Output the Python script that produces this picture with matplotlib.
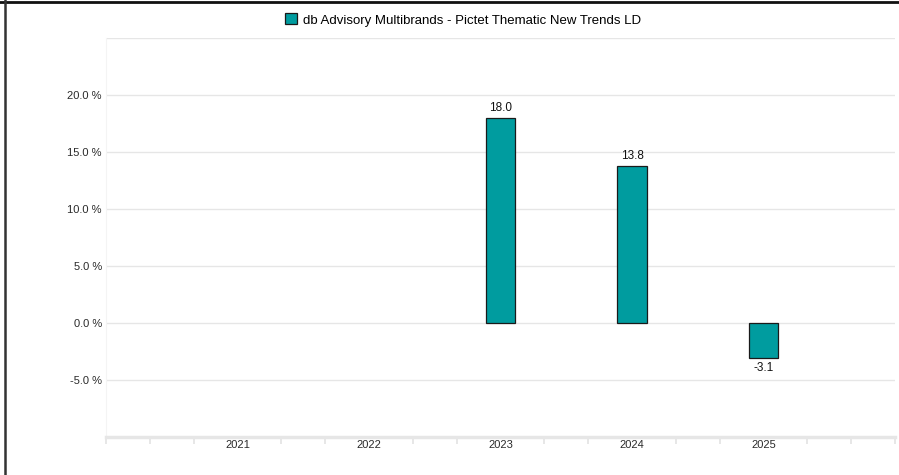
import matplotlib.pyplot as plt
from matplotlib.lines import Line2D
from matplotlib.patches import Patch
import numpy as np

plt.rcParams["font.family"] = ["Liberation Sans", "DejaVu Sans"]

years = ["2021", "2022", "2023", "2024", "2025"]
returns = [None, None, 18.0, 13.8, -3.1]
y_ticks = [-5.0, 0.0, 5.0, 10.0, 15.0, 20.0]
series_name = "db Advisory Multibrands - Pictet Thematic New Trends LD"

bar_color = "#009C9F"
grid_color = "#e6e6e6"

fig = plt.figure(figsize=(8.99, 4.75), dpi=100)
ax = fig.add_axes([106 / 899, 38 / 475, 789 / 899, 399 / 475])

x = np.arange(len(years))
for xi, val in zip(x, returns):
    if val is None:
        continue
    ax.bar(xi, val, width=0.225, color=bar_color, edgecolor="#1a1a1a", linewidth=0.9, zorder=3)
    if val >= 0:
        ax.annotate(f"{val:.1f}", (xi, val), xytext=(0, 3), textcoords="offset points",
                    ha="center", va="bottom", fontsize=8.5, color="#111111")
    else:
        ax.annotate(f"{val:.1f}", (xi, val), xytext=(0, -2.5), textcoords="offset points",
                    ha="center", va="top", fontsize=8.5, color="#111111")

ax.set_xlim(-1, 5)
ax.set_ylim(-10, 25)

ax.set_yticks(y_ticks)
ax.set_yticklabels([f"{v:.1f} %" for v in y_ticks], fontsize=8, color="#2a2a2a")
ax.set_xticks(x)
ax.set_xticklabels(years, fontsize=8, color="#2a2a2a")
ax.tick_params(axis="x", length=0, pad=2)
ax.tick_params(axis="y", length=0, pad=3)

# small ticks along the category axis, three per category band
minor = [k / 3 for k in range(-3, 16) if k % 3 != 0]
minor += [-1, 5]
ax.set_xticks(minor, minor=True)
ax.tick_params(axis="x", which="minor", length=5, width=1.2, color="#e3e3e3", direction="out")

for v in y_ticks + [25]:
    ax.axhline(v, color=grid_color, linewidth=1.0, zorder=1)

for side in ["top", "right"]:
    ax.spines[side].set_visible(False)
ax.spines["left"].set_color("#f4f4f4")
ax.spines["left"].set_linewidth(0.8)
ax.spines["bottom"].set_color("#e6e6e6")
ax.spines["bottom"].set_linewidth(2.5)

handle = Patch(facecolor=bar_color, edgecolor="#1a1a1a", linewidth=0.9)
fig.legend([handle], [series_name], loc="center", bbox_to_anchor=(463 / 899, 1 - 20 / 475),
           frameon=False, fontsize=9.5, handlelength=0.9, handleheight=0.9, handletextpad=0.5)

# outer frame (top and left edges visible in the reference)
fig.add_artist(Line2D([0, 1], [1 - 1.5 / 475, 1 - 1.5 / 475], color="#111111", linewidth=2, transform=fig.transFigure))
fig.add_artist(Line2D([4.5 / 899, 4.5 / 899], [0, 1], color="#333333", linewidth=1.8, transform=fig.transFigure))

fig.savefig("out.png", dpi=100)
